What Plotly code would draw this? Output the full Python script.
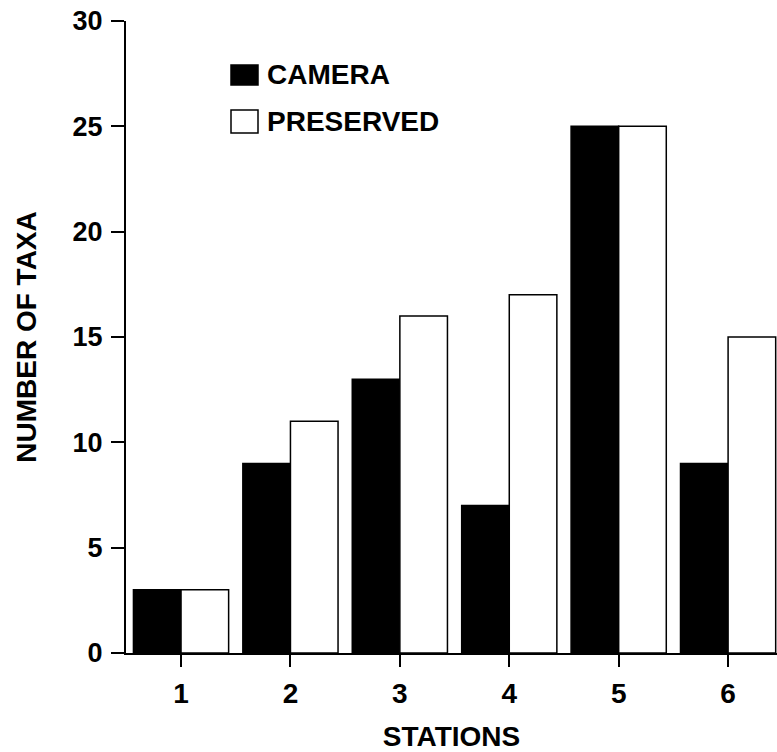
import plotly.graph_objects as go

stations = [1, 2, 3, 4, 5, 6]
camera = [3, 9, 13, 7, 25, 9]
preserved = [3, 11, 16, 17, 25, 15]
y_ticks = [0, 5, 10, 15, 20, 25, 30]
series_names = ["CAMERA", "PRESERVED"]

FONT = "Liberation Sans, Arial, Helvetica, sans-serif"

fig = go.Figure()
fig.add_trace(go.Bar(x=stations, y=camera, name=series_names[0],
                     marker=dict(color="black", line=dict(color="black", width=1.5))))
fig.add_trace(go.Bar(x=stations, y=preserved, name=series_names[1],
                     marker=dict(color="white", line=dict(color="black", width=1.5))))

L, T, B = 126, 21, 99
W, H = 777, 752
fig.update_layout(
    width=W, height=H,
    margin=dict(l=L, r=0, t=T, b=B),
    paper_bgcolor="white", plot_bgcolor="white",
    barmode="group", bargap=0.13, bargroupgap=0,
    showlegend=False,
    font=dict(family=FONT, size=26, color="black", weight="bold"),
)
fig.update_xaxes(
    range=[0.497, 6.447], tickvals=stations, ticktext=[str(s) for s in stations],
    showgrid=False, zeroline=False, showline=True, linecolor="black", linewidth=2,
    ticks="outside", ticklen=12, tickwidth=2, tickcolor="black",
    tickfont=dict(family=FONT, size=28, weight="bold"), ticklabelstandoff=2,
    title=dict(text="STATIONS", font=dict(family=FONT, size=28, weight="bold"), standoff=21),
)
fig.update_yaxes(
    range=[0, 30], tickvals=y_ticks,
    showgrid=False, zeroline=False, showline=True, linecolor="black", linewidth=2,
    ticks="outside", ticklen=13, tickwidth=2, tickcolor="black",
    tickfont=dict(family=FONT, size=27, weight="bold"), ticklabelstandoff=3,
    title=dict(text="NUMBER OF TAXA", font=dict(family=FONT, size=28, weight="bold"), standoff=28),
)

# legend drawn as boxes + labels in paper coordinates
legend_items = [("black", series_names[0], 65, 85, 74), ("white", series_names[1], 110, 133, 122)]
pw, ph = W - L, H - T - B
for fill, label, ytop, ybot, ytext in legend_items:
    fig.add_shape(type="rect", xref="paper", yref="paper",
                  x0=(231 - L) / pw, x1=(258 - L) / pw,
                  y0=1 - (ybot - T) / ph, y1=1 - (ytop - T) / ph,
                  fillcolor=fill, line=dict(color="black", width=1.5))
    fig.add_annotation(xref="paper", yref="paper", x=(265 - L) / pw, y=1 - (ytext - T) / ph,
                       text=label, showarrow=False, xanchor="left", yanchor="middle",
                       font=dict(family=FONT, size=28, weight="bold"))

fig.write_html("out.html", config={"displayModeBar": False},
               post_script="document.body.style.margin='0';document.body.style.overflow='hidden';")
